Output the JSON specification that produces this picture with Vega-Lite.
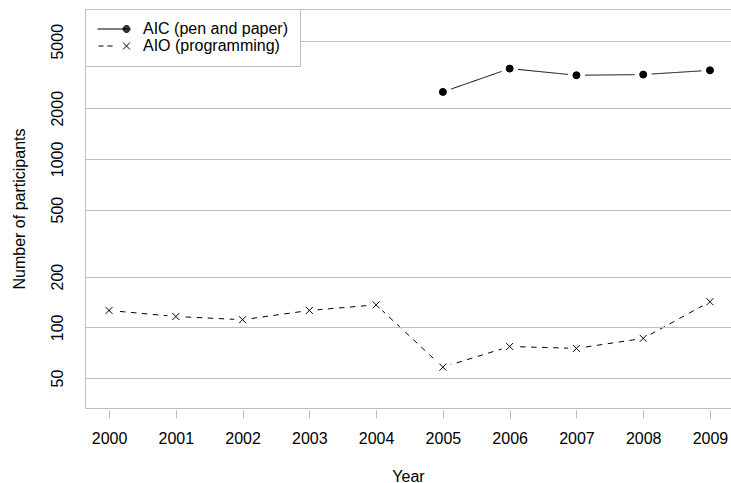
{
  "$schema": "https://vega.github.io/schema/vega-lite/v6.json",
  "width": 646,
  "height": 399,
  "autosize": {"type": "none"},
  "padding": {"left": 85, "top": 9, "right": 0, "bottom": 75},
  "background": "white",
  "config": {
    "font": "Liberation Sans",
    "view": {"stroke": "#bebebe", "strokeWidth": 1}
  },
  "data": {
    "values": [
      {"year": 2005, "series": "AIC (pen and paper)", "n": 2500},
      {"year": 2006, "series": "AIC (pen and paper)", "n": 3440},
      {"year": 2007, "series": "AIC (pen and paper)", "n": 3140},
      {"year": 2008, "series": "AIC (pen and paper)", "n": 3170},
      {"year": 2009, "series": "AIC (pen and paper)", "n": 3360},
      {"year": 2000, "series": "AIO (programming)", "n": 126},
      {"year": 2001, "series": "AIO (programming)", "n": 116},
      {"year": 2002, "series": "AIO (programming)", "n": 111},
      {"year": 2003, "series": "AIO (programming)", "n": 126},
      {"year": 2004, "series": "AIO (programming)", "n": 136},
      {"year": 2005, "series": "AIO (programming)", "n": 58},
      {"year": 2006, "series": "AIO (programming)", "n": 77},
      {"year": 2007, "series": "AIO (programming)", "n": 75},
      {"year": 2008, "series": "AIO (programming)", "n": 86},
      {"year": 2009, "series": "AIO (programming)", "n": 142}
    ]
  },
  "encoding": {
    "x": {
      "field": "year",
      "type": "quantitative",
      "scale": {"domain": [1999.64, 2009.315], "nice": false, "zero": false},
      "axis": {
        "values": [2000, 2001, 2002, 2003, 2004, 2005, 2006, 2007, 2008, 2009],
        "format": "d",
        "offset": 2,
        "tickSize": 8,
        "tickColor": "#bebebe",
        "domain": false,
        "grid": false,
        "labelFontSize": 16,
        "labelColor": "black",
        "labelBaseline": "alphabetic",
        "labelPadding": 25,
        "labelFlush": false,
        "labelOverlap": false,
        "title": "Year",
        "titleFontSize": 16,
        "titleFontWeight": "normal",
        "titleColor": "black",
        "titleBaseline": "alphabetic",
        "titlePadding": 35
      }
    },
    "y": {
      "field": "n",
      "type": "quantitative",
      "scale": {"type": "log", "domain": [33.2, 7770], "nice": false},
      "axis": {
        "values": [50, 100, 200, 500, 1000, 2000, 5000],
        "format": "d",
        "labelAngle": -90,
        "labelAlign": "center",
        "labelBaseline": "alphabetic",
        "labelPadding": 23,
        "ticks": false,
        "domain": false,
        "grid": true,
        "gridColor": "#bebebe",
        "gridWidth": 1,
        "labelFontSize": 16,
        "labelColor": "black",
        "labelFlush": false,
        "labelOverlap": false,
        "title": "Number of participants",
        "titleFontSize": 16,
        "titleFontWeight": "normal",
        "titleColor": "black",
        "titlePadding": 22,
        "zindex": 1
      }
    }
  },
  "layer": [
    {
      "mark": {"type": "line", "color": "black", "strokeWidth": 1},
      "encoding": {
        "detail": {"field": "series", "type": "nominal"},
        "strokeDash": {
          "field": "series",
          "type": "nominal",
          "scale": {"domain": ["AIC (pen and paper)", "AIO (programming)"], "range": [[1, 0], [5.5, 5.5]]},
          "legend": null
        }
      }
    },
    {
      "mark": {"type": "point", "filled": true, "color": "white", "opacity": 1, "size": 289}
    },
    {
      "mark": {"type": "point", "filled": true, "fill": "black", "stroke": "black", "strokeWidth": 1, "opacity": 1, "size": 49},
      "encoding": {
        "shape": {
          "field": "series",
          "type": "nominal",
          "scale": {"domain": ["AIC (pen and paper)", "AIO (programming)"], "range": ["circle", "M-1,-1L1,1M-1,1L1,-1"]},
          "legend": null
        }
      }
    },
    {
      "transform": [{"filter": "false"}],
      "mark": {"type": "point", "filled": false, "color": "black", "strokeWidth": 1, "opacity": 1},
      "encoding": {
        "shape": {
          "field": "series",
          "type": "nominal",
          "scale": {
            "domain": ["AIC (pen and paper)", "AIO (programming)"],
            "range": [
              "M-3.3,0L2.5,0M3.2,0A0.7,0.7,0,1,1,1.8,0A0.7,0.7,0,1,1,3.2,0ZM3.05,0A0.55,0.55,0,1,1,1.95,0A0.55,0.55,0,1,1,3.05,0ZM2.9,0A0.4,0.4,0,1,1,2.1,0A0.4,0.4,0,1,1,2.9,0ZM2.75,0A0.25,0.25,0,1,1,2.25,0A0.25,0.25,0,1,1,2.75,0ZM2.6,0A0.1,0.1,0,1,1,2.4,0A0.1,0.1,0,1,1,2.6,0Z",
              "M-3.1,0L-2.1,0M-1.3,0L-0.3,0M1.8,-0.7L3.2,0.7M1.8,0.7L3.2,-0.7"
            ]
          },
          "legend": {
            "title": null,
            "orient": "top-left",
            "offset": 0,
            "padding": 12,
            "strokeColor": "#bebebe",
            "fillColor": "white",
            "cornerRadius": 0,
            "symbolSize": 100,
            "symbolOffset": 9,
            "symbolStrokeWidth": 1,
            "symbolStrokeColor": "black",
            "symbolOpacity": 1,
            "labelFontSize": 16,
            "labelColor": "black",
            "labelOffset": 21,
            "rowPadding": 1,
            "zindex": 2,
            "encode": {
              "symbols": {
                "update": {
                  "stroke": {"value": "black"},
                  "strokeWidth": {"value": 1},
                  "opacity": {"value": 1}
                }
              }
            }
          }
        }
      }
    }
  ],
  "resolve": {"scale": {"shape": "independent"}}
}
